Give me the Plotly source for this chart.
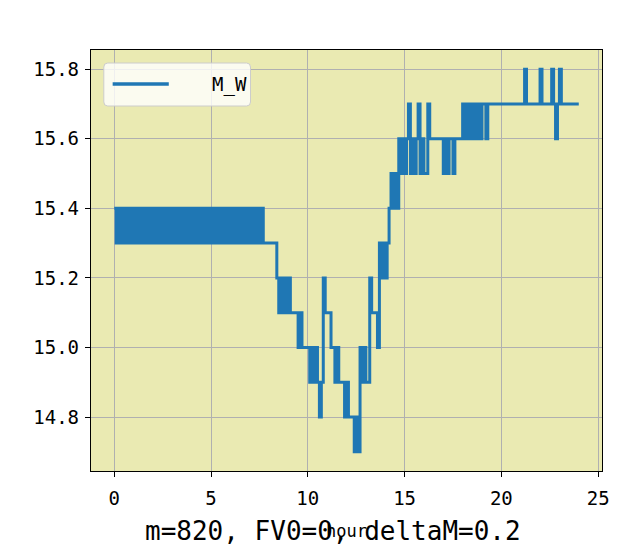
import plotly.graph_objects as go

# ---- data (sampled every 0.1 hour, from 0 to 24 h) ----
HOUR_START = 0.0
HOUR_STEP = 0.1
M_W = [
    # 0.0 - 0.9
    15.4, 15.3, 15.4, 15.3, 15.4, 15.3, 15.4, 15.3, 15.4, 15.3,
    # 1.0 - 1.9
    15.4, 15.3, 15.4, 15.3, 15.4, 15.3, 15.4, 15.3, 15.4, 15.3,
    # 2.0 - 2.9
    15.4, 15.3, 15.4, 15.3, 15.4, 15.3, 15.4, 15.3, 15.4, 15.3,
    # 3.0 - 3.9
    15.4, 15.3, 15.4, 15.3, 15.4, 15.3, 15.4, 15.3, 15.4, 15.3,
    # 4.0 - 4.9
    15.4, 15.3, 15.4, 15.3, 15.4, 15.3, 15.4, 15.3, 15.4, 15.3,
    # 5.0 - 5.9
    15.4, 15.3, 15.4, 15.3, 15.4, 15.3, 15.4, 15.3, 15.4, 15.3,
    # 6.0 - 6.9
    15.4, 15.3, 15.4, 15.3, 15.4, 15.3, 15.4, 15.3, 15.4, 15.3,
    # 7.0 - 7.9
    15.4, 15.3, 15.4, 15.3, 15.4, 15.3, 15.4, 15.3, 15.3, 15.3,
    # 8.0 - 8.9
    15.3, 15.3, 15.3, 15.3, 15.2, 15.1, 15.2, 15.1, 15.2, 15.1,
    # 9.0 - 9.9
    15.2, 15.1, 15.1, 15.1, 15.1, 15.0, 15.1, 15.0, 15.0, 15.0,
    # 10.0 - 10.9
    15.0, 14.9, 15.0, 14.9, 15.0, 14.9, 14.8, 14.9, 15.2, 15.1,
    # 11.0 - 11.9
    15.1, 15.1, 15.0, 15.0, 14.9, 15.0, 14.9, 14.9, 14.9, 14.8,
    # 12.0 - 12.9
    14.9, 14.8, 14.8, 14.8, 14.7, 14.8, 14.7, 15.0, 14.9, 15.0,
    # 13.0 - 13.9
    14.9, 14.9, 15.2, 15.1, 15.1, 15.1, 15.0, 15.3, 15.2, 15.3,
    # 14.0 - 14.9
    15.2, 15.3, 15.4, 15.5, 15.4, 15.5, 15.4, 15.6, 15.5, 15.6,
    # 15.0 - 15.9
    15.5, 15.6, 15.7, 15.5, 15.6, 15.5, 15.6, 15.7, 15.5, 15.6,
    # 16.0 - 16.9
    15.5, 15.5, 15.7, 15.6, 15.6, 15.6, 15.6, 15.6, 15.6, 15.6,
    # 17.0 - 17.9
    15.5, 15.6, 15.5, 15.6, 15.6, 15.5, 15.6, 15.6, 15.6, 15.6,
    # 18.0 - 18.9
    15.7, 15.6, 15.7, 15.6, 15.7, 15.6, 15.7, 15.6, 15.7, 15.6,
    # 19.0 - 19.9
    15.7, 15.7, 15.6, 15.7, 15.7, 15.7, 15.7, 15.7, 15.7, 15.7,
    # 20.0 - 20.9
    15.7, 15.7, 15.7, 15.7, 15.7, 15.7, 15.7, 15.7, 15.7, 15.7,
    # 21.0 - 21.9
    15.7, 15.7, 15.8, 15.7, 15.7, 15.7, 15.7, 15.7, 15.7, 15.7,
    # 22.0 - 22.9
    15.8, 15.7, 15.7, 15.7, 15.7, 15.7, 15.8, 15.7, 15.6, 15.7,
    # 23.0 - 23.9
    15.8, 15.7, 15.7, 15.7, 15.7, 15.7, 15.7, 15.7, 15.7, 15.7,
    # 24.0
    15.7,
]

X_TICKS = [0, 5, 10, 15, 20, 25]
X_TICK_LABELS = ["0", "5", "10", "15", "20", "25"]
Y_TICKS = [14.8, 15.0, 15.2, 15.4, 15.6, 15.8]
Y_TICK_LABELS = ["14.8", "15.0", "15.2", "15.4", "15.6", "15.8"]

SERIES_NAME = "M_W"
X_LABEL = "hour"
CAPTION = "m=820, FV0=0, deltaM=0.2"

LINE_COLOR = "#1f77b4"
FONT = "DejaVu Sans Mono"

fig = go.Figure()
fig.add_trace(go.Scatter(
    x0=HOUR_START, dx=HOUR_STEP, y=M_W,
    mode="lines", name=SERIES_NAME,
    line=dict(color=LINE_COLOR, width=3, shape="hv", simplify=False),
    showlegend=False,
))

# the page body adds an 8px offset; compensate so the plot area lands
# at x 91..610, y 50..471 of the 619x551 window
OFF = 8
W, H = 619 - OFF, 551 - OFF
L, R, T, B = 91 - OFF, 9, 50 - OFF, 80
pw, ph = W - L - R, H - T - B


def px(xp):
    return (xp - OFF - L) / pw


def py(yp):
    return (H - B - (yp - OFF)) / ph


# manual legend (rounded box, line sample, label)
x0, x1, y0, y1 = px(104), px(253), py(106), py(63)
rx, ry = 4 / pw, 4 / ph
path = (f"M {x0+rx},{y0} L {x1-rx},{y0} Q {x1},{y0} {x1},{y0+ry} "
        f"L {x1},{y1-ry} Q {x1},{y1} {x1-rx},{y1} L {x0+rx},{y1} "
        f"Q {x0},{y1} {x0},{y1-ry} L {x0},{y0+ry} Q {x0},{y0} {x0+rx},{y0} Z")
shapes = [
    dict(type="path", xref="paper", yref="paper", path=path,
         fillcolor="rgba(255,255,255,0.8)", line=dict(color="#cccccc", width=1)),
    dict(type="line", xref="paper", yref="paper",
         x0=px(113), x1=px(170), y0=py(84), y1=py(84),
         line=dict(color=LINE_COLOR, width=3.5)),
]
annotations = [
    dict(xref="paper", yref="paper", x=px(251), y=py(84), text=SERIES_NAME,
         showarrow=False, xanchor="right", yanchor="middle",
         font=dict(family=FONT, size=19, color="black")),
    dict(xref="paper", yref="paper", x=px(351), y=py(531), text=X_LABEL,
         showarrow=False, xanchor="center", yanchor="middle",
         font=dict(family=FONT, size=17, color="black")),
    dict(xref="paper", yref="paper", x=px(337), y=py(531), text=CAPTION,
         showarrow=False, xanchor="center", yanchor="middle",
         font=dict(family=FONT, size=26, color="black")),
]

axis_common = dict(
    showgrid=True, gridcolor="#b0b0b0", gridwidth=1.3,
    zeroline=False, showline=True, linecolor="black", linewidth=1.3,
    mirror=True, ticks="outside", ticklen=5, tickwidth=1.3, tickcolor="black",
    tickfont=dict(family=FONT, size=19, color="black"),
)

fig.update_layout(
    width=W, height=H,
    margin=dict(l=L, r=R, t=T, b=B),
    paper_bgcolor="white",
    plot_bgcolor="#EAEAB2",
    shapes=shapes,
    annotations=annotations,
    xaxis=dict(range=[-1.2, 25.2], tickvals=X_TICKS, ticktext=X_TICK_LABELS,
               ticklabelstandoff=5, **axis_common),
    yaxis=dict(range=[14.645, 15.855], tickvals=Y_TICKS, ticktext=Y_TICK_LABELS,
               ticklabelstandoff=2, **axis_common),
)

fig.write_html("out.html")
